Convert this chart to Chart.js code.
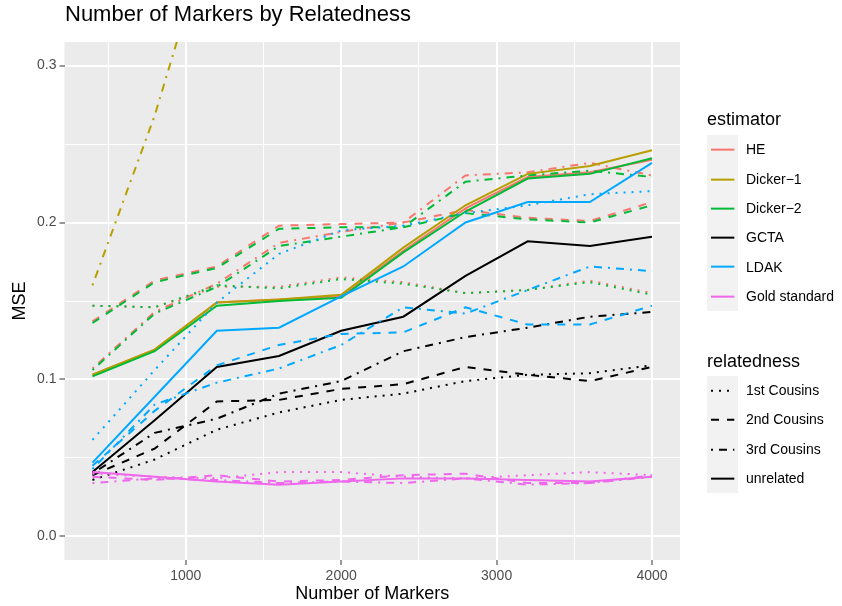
<!DOCTYPE html>
<html>
<head>
<meta charset="utf-8">
<script src="https://cdn.jsdelivr.net/npm/chart.js@4.4.0/dist/chart.umd.min.js"></script>
<style>
  body { margin: 0; background: #fff; font-family: "Liberation Sans", Arial, sans-serif; }
  #wrap { position: relative; width: 842px; height: 606px; overflow: hidden; }
  #chart { position: absolute; left: 0; top: 0; }
  .txt { position: absolute; white-space: nowrap; color: #000; }
  .title { left: 65px; top: 3px; font-size: 22px; line-height: 22px; }
  .legTitle { font-size: 18px; line-height: 18px; }
  .keys { position: absolute; background: #F2F2F2; width: 31px; }
  .keys svg { display: block; }
  .lab { font-size: 14px; line-height: 29.3px; height: 29.3px; }
</style>
</head>
<body>
<div id="wrap">
  <canvas id="chart" width="842" height="606"></canvas>
  <div class="txt title">Number of Markers by Relatedness</div>
  <div id="legend"></div>
</div>
<script>
// x values (number of markers)
var markers = [400, 800, 1200, 1600, 2000, 2400, 2800, 3200, 3600, 4000];

// HE
var heCousins1   = [0.147, 0.146, 0.159, 0.159, 0.165, 0.162, 0.155, 0.157, 0.163, 0.155];
var heCousins2   = [0.137, 0.163, 0.172, 0.198, 0.199, 0.200, 0.208, 0.203, 0.201, 0.213];
var heCousins3   = [0.107, 0.143, 0.161, 0.187, 0.194, 0.200, 0.230, 0.232, 0.238, 0.230];
var heUnrelated  = [0.103, 0.119, 0.149, 0.151, 0.153, 0.182, 0.209, 0.229, 0.232, 0.240];

// Dicker-1 (cousin runs are far above the plotted range; only 3rd cousins enters it)
var d1Cousins3   = [0.160, 0.268, 0.400, null, null, null, null, null, null, null];
var d1Unrelated  = [0.103, 0.119, 0.149, 0.151, 0.154, 0.184, 0.211, 0.231, 0.236, 0.246];

// Dicker-2
var d2Cousins1   = [0.147, 0.146, 0.160, 0.158, 0.164, 0.161, 0.155, 0.157, 0.162, 0.154];
var d2Cousins2   = [0.136, 0.162, 0.171, 0.196, 0.197, 0.197, 0.206, 0.202, 0.200, 0.211];
var d2Cousins3   = [0.106, 0.142, 0.159, 0.185, 0.191, 0.197, 0.226, 0.230, 0.233, 0.229];
var d2Unrelated  = [0.102, 0.118, 0.147, 0.150, 0.152, 0.181, 0.207, 0.228, 0.231, 0.241];

// GCTA
var gctaCousins1  = [0.036, 0.049, 0.068, 0.079, 0.087, 0.091, 0.099, 0.103, 0.104, 0.109];
var gctaCousins2  = [0.039, 0.056, 0.086, 0.087, 0.094, 0.097, 0.108, 0.103, 0.099, 0.108];
var gctaCousins3  = [0.040, 0.066, 0.075, 0.091, 0.099, 0.118, 0.127, 0.133, 0.140, 0.143];
var gctaUnrelated = [0.041, 0.074, 0.108, 0.115, 0.131, 0.140, 0.166, 0.188, 0.185, 0.191];

// LDAK
var ldakCousins1  = [0.0615, 0.106, 0.149, 0.180, 0.195, 0.198, 0.206, 0.211, 0.218, 0.220];
var ldakCousins2  = [0.045, 0.080, 0.109, 0.122, 0.129, 0.130, 0.146, 0.135, 0.135, 0.147];
var ldakCousins3  = [0.043, 0.084, 0.098, 0.107, 0.122, 0.146, 0.142, 0.157, 0.172, 0.169];
var ldakUnrelated = [0.047, 0.089, 0.131, 0.133, 0.153, 0.172, 0.200, 0.213, 0.213, 0.238];

// Gold standard
var gsCousins1   = [0.040, 0.038, 0.037, 0.041, 0.041, 0.038, 0.037, 0.039, 0.041, 0.039];
var gsCousins2   = [0.038, 0.036, 0.039, 0.035, 0.036, 0.039, 0.040, 0.034, 0.034, 0.039];
var gsCousins3   = [0.034, 0.037, 0.036, 0.034, 0.035, 0.034, 0.037, 0.033, 0.034, 0.038];
var gsUnrelated  = [0.041, 0.038, 0.035, 0.033, 0.035, 0.037, 0.037, 0.036, 0.035, 0.038];

var xTicks = [500, 1000, 1500, 2000, 2500, 3000, 3500, 4000];
var yTicks = [0, 0.05, 0.1, 0.15, 0.2, 0.25, 0.3];

var estimators = ['HE', 'Dicker\u22121', 'Dicker\u22122', 'GCTA', 'LDAK', 'Gold standard'];
var estColors  = ['#F8766D', '#B79F00', '#00BA38', '#000000', '#00A9FF', '#EE67EC'];
var relations  = ['1st Cousins', '2nd Cousins', '3rd Cousins', 'unrelated'];
var relDash    = [[2, 6], [8, 8], [2, 6, 8, 6], []];

// estimator index, relatedness index, values
var series = [
  [0, 0, heCousins1], [0, 1, heCousins2], [0, 2, heCousins3], [0, 3, heUnrelated],
  [1, 2, d1Cousins3], [1, 3, d1Unrelated],
  [2, 0, d2Cousins1], [2, 1, d2Cousins2], [2, 2, d2Cousins3], [2, 3, d2Unrelated],
  [3, 0, gctaCousins1], [3, 1, gctaCousins2], [3, 2, gctaCousins3], [3, 3, gctaUnrelated],
  [4, 0, ldakCousins1], [4, 1, ldakCousins2], [4, 2, ldakCousins3], [4, 3, ldakUnrelated],
  [5, 0, gsCousins1], [5, 1, gsCousins2], [5, 2, gsCousins3], [5, 3, gsUnrelated]
];

var datasets = series.map(function(s, i) {
  return {
    label: estimators[s[0]] + ' / ' + relations[s[1]],
    data: markers.map(function(m, j) { return { x: m, y: s[2][j] }; }),
    borderColor: estColors[s[0]],
    borderWidth: 2,
    borderDash: relDash[s[1]],
    borderCapStyle: 'butt',
    pointRadius: 0,
    fill: false,
    tension: 0,
    spanGaps: false,
    order: -i
  };
});

var panelBg = {
  id: 'panelBg',
  beforeDraw: function(chart) {
    var a = chart.chartArea, ctx = chart.ctx;
    ctx.save();
    ctx.fillStyle = '#EBEBEB';
    ctx.fillRect(a.left, a.top, a.right - a.left, a.bottom - a.top);
    ctx.restore();
  }
};

function isMajorX(v) { return v % 1000 === 0; }
function isMajorY(v) { return Math.abs(v * 10 - Math.round(v * 10)) < 1e-9; }

Chart.defaults.font.family = '"Liberation Sans", Arial, sans-serif';

new Chart(document.getElementById('chart'), {
  type: 'line',
  data: { datasets: datasets },
  plugins: [panelBg],
  options: {
    responsive: false,
    animation: false,
    layout: { padding: { left: 0, top: 42, right: 162, bottom: 0 } },
    plugins: { legend: { display: false }, tooltip: { enabled: false } },
    scales: {
      x: {
        type: 'linear',
        min: 220, max: 4180,
        afterBuildTicks: function(scale) {
          scale.ticks = xTicks.map(function(v) { return { value: v }; });
        },
        afterFit: function(scale) { scale.height = 46; },
        border: { display: false },
        grid: {
          color: '#FFFFFF',
          lineWidth: function(c) { return isMajorX(c.tick.value) ? 2 : 1; },
          tickColor: function(c) { return isMajorX(c.tick.value) ? '#333333' : 'rgba(0,0,0,0)'; },
          tickLength: 5,
          tickWidth: 1
        },
        ticks: {
          color: '#4D4D4D',
          font: { size: 14 },
          padding: 3,
          maxRotation: 0,
          autoSkip: false,
          callback: function(v) { return isMajorX(v) ? String(v) : ''; }
        },
        title: {
          display: true,
          text: 'Number of Markers',
          color: '#000',
          font: { size: 18 },
          padding: { top: 0, bottom: 1 }
        }
      },
      y: {
        type: 'linear',
        min: -0.015, max: 0.315,
        afterBuildTicks: function(scale) {
          scale.ticks = yTicks.map(function(v) { return { value: v }; });
        },
        afterFit: function(scale) { scale.width = 64.5; },
        border: { display: false },
        grid: {
          color: '#FFFFFF',
          lineWidth: function(c) { return isMajorY(c.tick.value) ? 2 : 1; },
          tickColor: function(c) { return isMajorY(c.tick.value) ? '#333333' : 'rgba(0,0,0,0)'; },
          tickLength: 5,
          tickWidth: 1
        },
        ticks: {
          color: '#4D4D4D',
          font: { size: 14 },
          padding: 3,
          autoSkip: false,
          callback: function(v) { return isMajorY(v) ? v.toFixed(1) : ''; }
        },
        title: {
          display: true,
          text: 'MSE',
          color: '#000',
          font: { size: 18 },
          padding: { top: 9, bottom: 0 }
        }
      }
    }
  }
});

// ggplot-style legends (two guides)
function keySvg(color, dash) {
  return '<svg width="31" height="29.3"><line x1="4" y1="14.65" x2="27.3" y2="14.65" stroke="' + color +
    '" stroke-width="2" stroke-dasharray="' + (dash.length ? dash.join(',') : 'none') + '"/></svg>';
}

function buildGuide(title, titleTop, keysTop, names, colors, dashes) {
  var html = '<div class="txt legTitle" style="left:707px;top:' + titleTop + 'px">' + title + '</div>';
  html += '<div class="keys" style="left:706.7px;top:' + keysTop + 'px">';
  names.forEach(function(n, i) { html += keySvg(colors[i], dashes[i]); });
  html += '</div>';
  names.forEach(function(n, i) {
    html += '<div class="txt lab" style="left:746px;top:' + (keysTop + i * 29.3) + 'px">' + n + '</div>';
  });
  return html;
}

document.getElementById('legend').innerHTML =
  buildGuide('estimator', 110, 135.3, estimators, estColors, estimators.map(function() { return []; })) +
  buildGuide('relatedness', 352, 376, relations, relations.map(function() { return '#000000'; }), relDash);
</script>
</body>
</html>
